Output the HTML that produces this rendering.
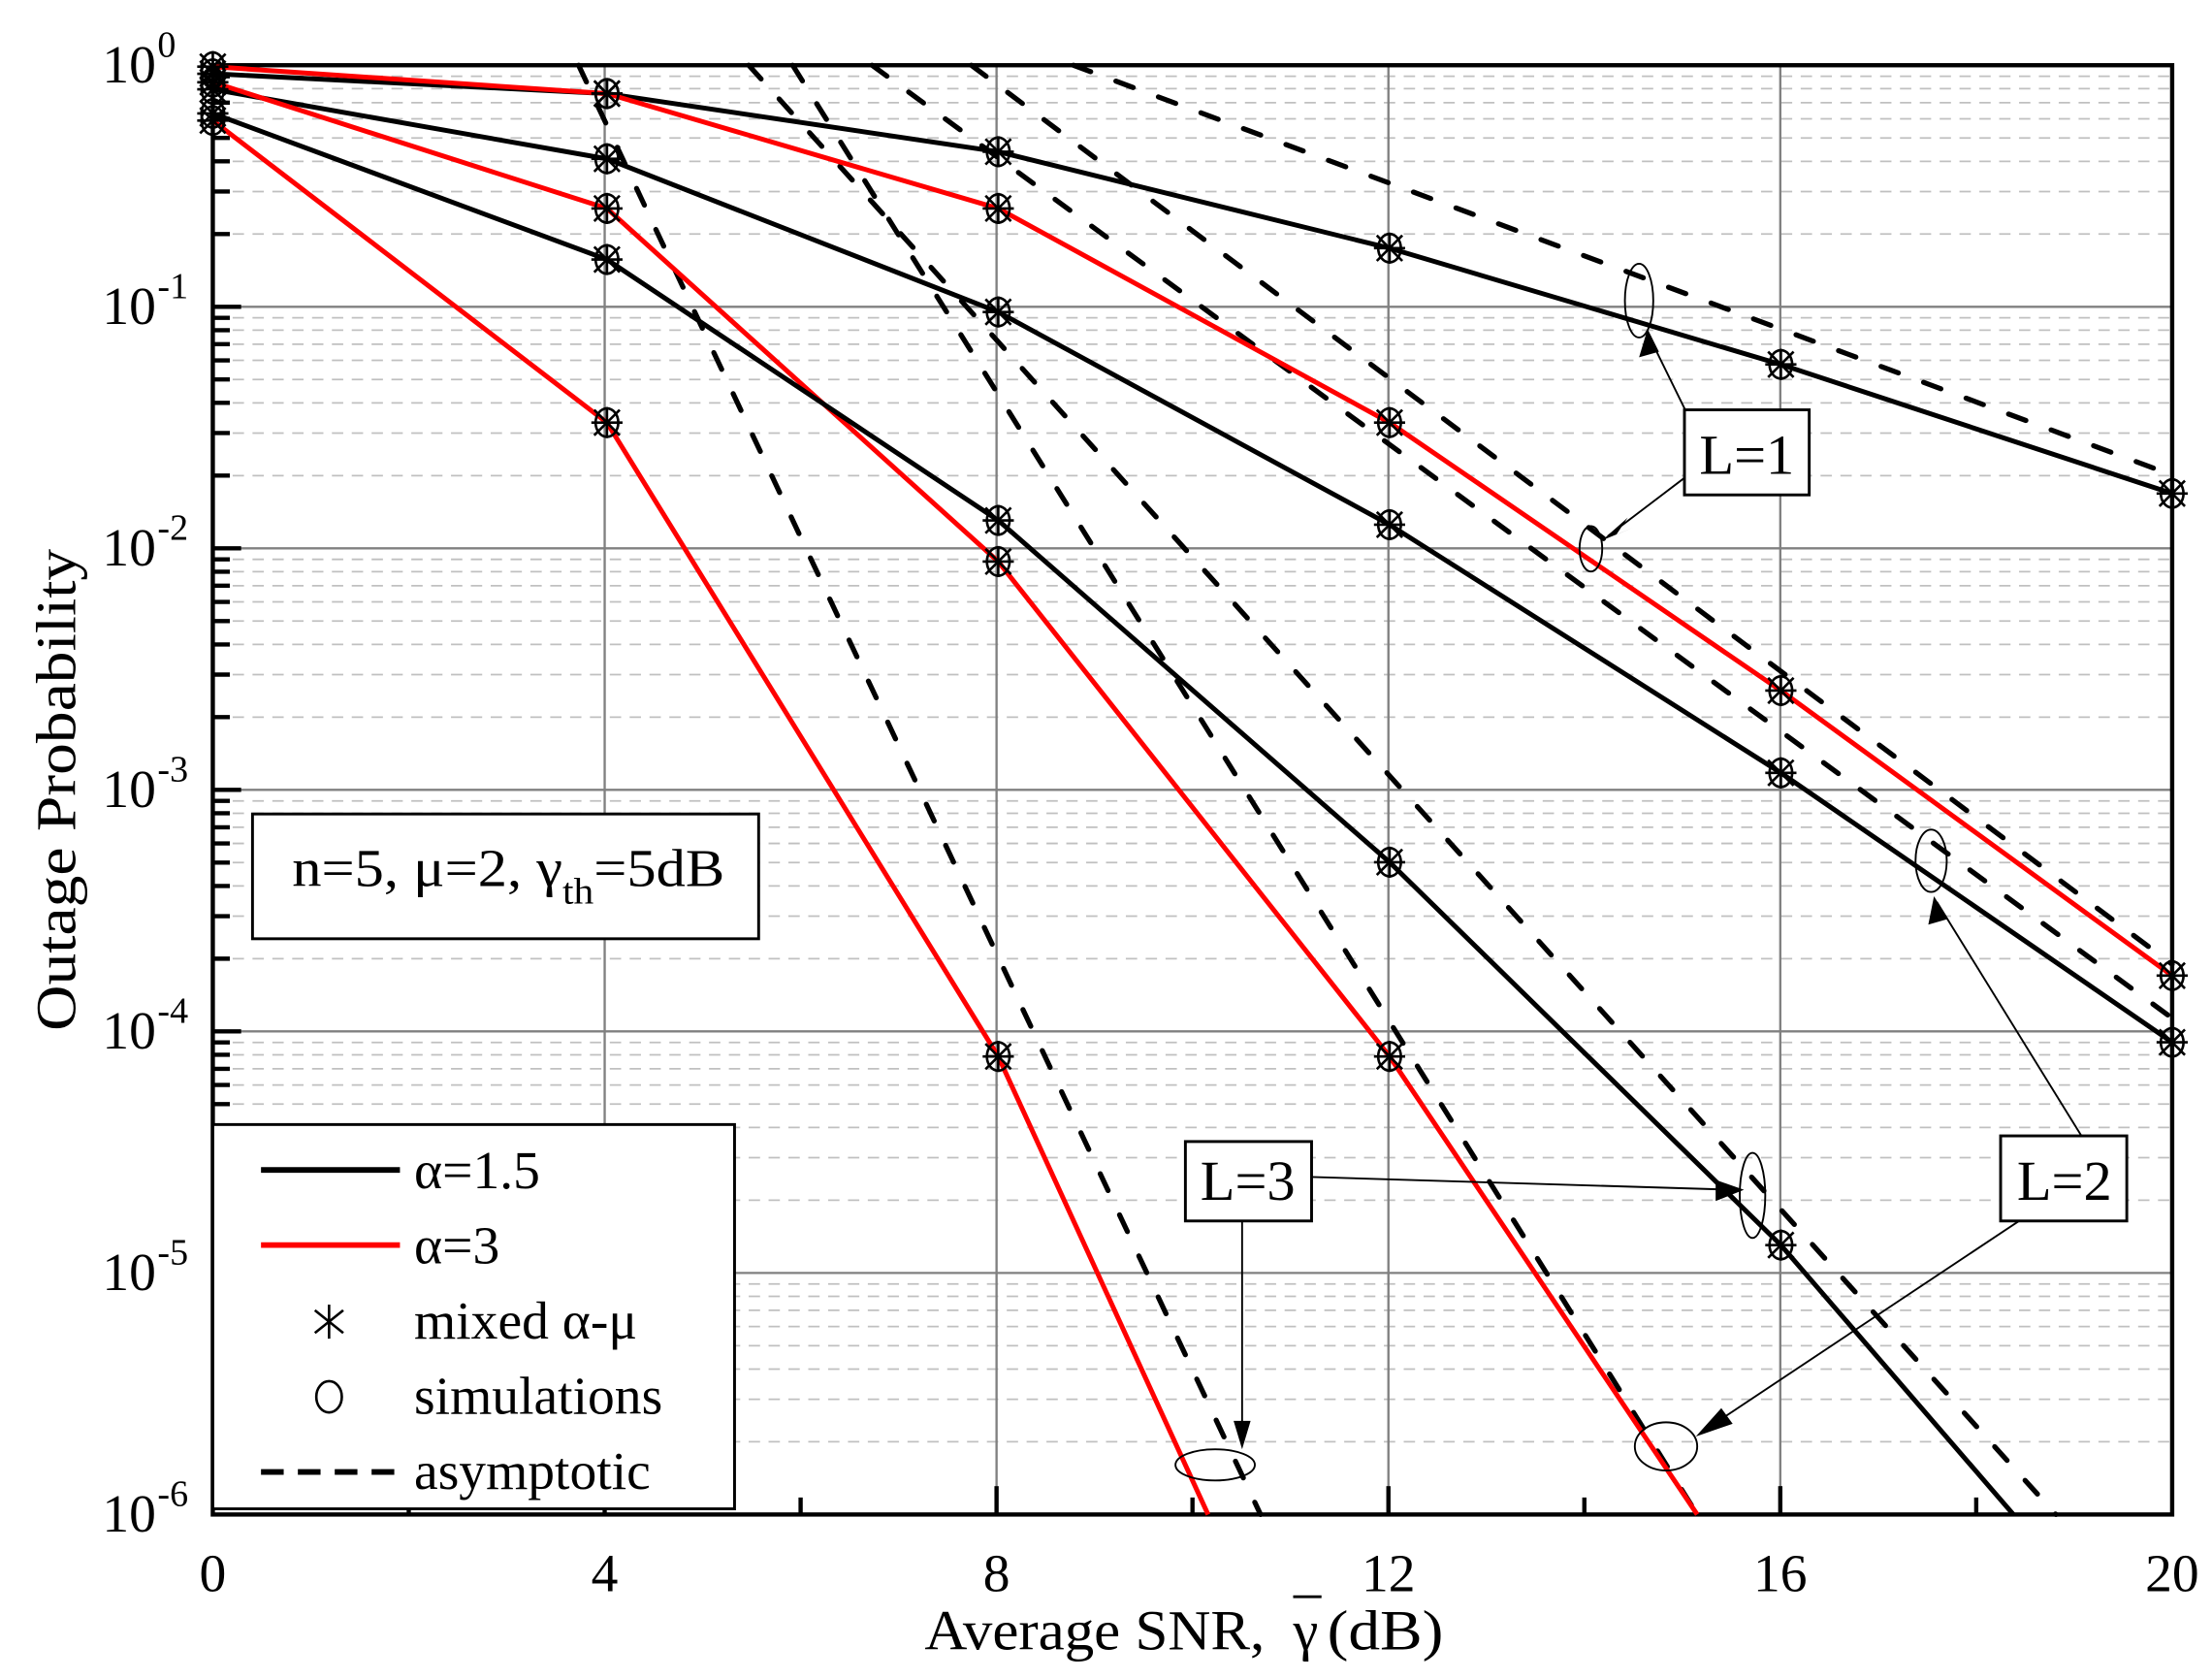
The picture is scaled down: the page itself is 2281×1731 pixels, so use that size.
<!DOCTYPE html>
<html><head><meta charset="utf-8"><style>html,body{margin:0;padding:0;background:#fff}svg{display:block}text{font-family:"Liberation Serif",serif;fill:#000}</style></head>
<body>
<svg id="s" xmlns="http://www.w3.org/2000/svg" width="2281" height="1731" viewBox="0 0 1560 1184">
<rect x="0" y="0" width="1560" height="1184" fill="#fff"/>
<g id="grid"></g>
<g id="curves" fill="none" stroke-linejoin="round"></g>
<g id="marks" fill="none" stroke="#000" stroke-width="1.8"></g>
<g id="ann" fill="none" stroke="#000" stroke-width="1.3">
  <ellipse cx="1156" cy="212" rx="10" ry="26"/>
  <ellipse cx="1122" cy="387" rx="8" ry="16"/>
  <ellipse cx="1362" cy="607" rx="11" ry="22"/>
  <ellipse cx="1175" cy="1020" rx="22" ry="17"/>
  <ellipse cx="1236" cy="843" rx="9" ry="30"/>
  <ellipse cx="857" cy="1033" rx="28" ry="11"/>
  <line x1="1190" y1="292" x2="1162" y2="235"/>
  <line x1="1188" y1="337" x2="1134" y2="378"/>
  <line x1="1468" y1="801" x2="1366" y2="636"/>
  <line x1="1424" y1="861" x2="1200" y2="1010"/>
  <line x1="925" y1="830" x2="1222" y2="839"/>
  <line x1="876" y1="861" x2="876" y2="1018"/>
  <g fill="#000" stroke="none">
    <polygon points="1162,232 1156,252 1170,248"/>
    <polygon points="1130,381 1148,365 1140,377 1152,372"/>
    <polygon points="1364,632 1360,652 1374,648"/>
    <polygon points="1196,1013 1214,993 1222,1004"/>
    <polygon points="1230,839 1210,832 1210,847"/>
    <polygon points="876,1022 870,1002 882,1002"/>
  </g>
  <rect x="1188" y="289" width="88" height="60" fill="#fff" stroke-width="2"/>
  <rect x="1411" y="801" width="89" height="60" fill="#fff" stroke-width="2"/>
  <rect x="836" y="805" width="89" height="56" fill="#fff" stroke-width="2"/>
</g>
<text x="1232" y="334" font-size="40" text-anchor="middle">L=1</text>
<text x="1456" y="846" font-size="40" text-anchor="middle">L=2</text>
<text x="880" y="846" font-size="40" text-anchor="middle">L=3</text>
<rect x="178" y="574" width="357" height="88" fill="#fff" stroke="#000" stroke-width="2"/>
<text x="206" y="625" font-size="38" textLength="305" lengthAdjust="spacingAndGlyphs">n=5, μ=2, γ<tspan font-size="26" dy="12">th</tspan><tspan dy="-12">=5dB</tspan></text>
<rect x="150" y="793" width="368" height="271" fill="#fff" stroke="#000" stroke-width="2"/>
<line x1="184" y1="825" x2="282" y2="825" stroke="#000" stroke-width="4"/>
<line x1="184" y1="878" x2="282" y2="878" stroke="#f00" stroke-width="4"/>
<g stroke="#000" stroke-width="1.8"><line x1="232" y1="920" x2="232" y2="944"/><line x1="222" y1="924" x2="242" y2="940"/><line x1="222" y1="940" x2="242" y2="924"/></g>
<ellipse cx="232" cy="985" rx="9" ry="11" fill="none" stroke="#000" stroke-width="1.8"/>
<line x1="184" y1="1038" x2="282" y2="1038" stroke="#000" stroke-width="4" stroke-dasharray="16,10"/>
<text x="292" y="838" font-size="38">α=1.5</text>
<text x="292" y="891" font-size="38">α=3</text>
<text x="292" y="944" font-size="38">mixed α-μ</text>
<text x="292" y="997" font-size="38">simulations</text>
<text x="292" y="1050" font-size="38">asymptotic</text>
<g id="labels"></g>
<text x="652" y="1163" font-size="40" textLength="240" lengthAdjust="spacingAndGlyphs">Average SNR,</text>
<text x="912" y="1163" font-size="40">γ</text>
<text x="936" y="1163" font-size="40" textLength="82" lengthAdjust="spacingAndGlyphs">(dB)</text>
<line x1="912" y1="1126" x2="932" y2="1126" stroke="#000" stroke-width="2"/>
<text transform="translate(53,557) rotate(-90)" font-size="40" text-anchor="middle" textLength="340" lengthAdjust="spacingAndGlyphs">Outage Probability</text>
</svg>
<script>
const NS="http://www.w3.org/2000/svg";
function el(p,t,a){const e=document.createElementNS(NS,t);for(const k in a)e.setAttribute(k,a[k]);p.appendChild(e);return e;}
const g=document.getElementById('grid'),L=150,R=1532,T=46,B=1068,D=170.33;
for(let d=0;d<6;d++)for(let k=2;k<=9;k++){const y=T+D*(d+1-Math.log10(k));
 el(g,'line',{x1:L,x2:R,y1:y,y2:y,stroke:'#c0c0c0','stroke-width':1.2,'stroke-dasharray':'8,6'});
 el(g,'line',{x1:L,x2:L+12,y1:y,y2:y,stroke:'#000','stroke-width':3});}
for(let d=1;d<6;d++){const y=T+D*d;el(g,'line',{x1:L,x2:R,y1:y,y2:y,stroke:'#808080','stroke-width':1.6});
 el(g,'line',{x1:L,x2:L+20,y1:y,y2:y,stroke:'#000','stroke-width':3});}
for(let i=1;i<5;i++){const x=L+(R-L)*i/5;el(g,'line',{x1:x,x2:x,y1:T,y2:B,stroke:'#808080','stroke-width':1.6});
 el(g,'line',{x1:x,x2:x,y1:B,y2:B-20,stroke:'#000','stroke-width':3});}
for(let i=1;i<10;i+=2){const x=L+(R-L)*i/10;el(g,'line',{x1:x,x2:x,y1:B,y2:B-12,stroke:'#000','stroke-width':3});}
el(g,'rect',{x:L,y:T,width:R-L,height:B-T,fill:'none',stroke:'#000','stroke-width':3});
const c=document.getElementById('curves');
const asym=[[757,46,1532,335],[685,46,1532,680],[615,46,1532,718],[559,46,1197,1068],[528,46,1450,1068],[408,46,889,1068]];
asym.forEach(a=>el(c,'line',{x1:a[0],y1:a[1],x2:a[2],y2:a[3],stroke:'#000','stroke-width':3.6,'stroke-dasharray':'13,19','stroke-linecap':'round'}));
const S={b1:[[150,52],[428,66],[704,107],[980,175],[1256,257],[1532,348]],
r1:[[150,47],[428,66],[704,147],[980,298],[1256,487],[1532,688]],
b2:[[150,63],[428,112],[704,220],[980,370],[1256,545],[1532,735]],
r2:[[150,58],[428,147],[704,396],[980,745],[1197,1068]],
b3:[[150,80],[428,183],[704,367],[980,608],[1256,878],[1420,1068]],
r3:[[150,85],[428,298],[704,745],[852,1068]]};
const m=document.getElementById('marks');
for(const k in S){el(c,'polyline',{points:S[k].map(p=>p.join(',')).join(' '),stroke:k[0]=='r'?'#f00':'#000','stroke-width':3.4});
 S[k].forEach(p=>{if(p[1]>=1060)return;const[x,y]=p;
  el(m,'ellipse',{cx:x,cy:y,rx:8,ry:10});
  el(m,'line',{x1:x,x2:x,y1:y-11,y2:y+11});el(m,'line',{x1:x-11,x2:x+11,y1:y,y2:y});
  el(m,'line',{x1:x-9,x2:x+9,y1:y-9,y2:y+9});el(m,'line',{x1:x-9,x2:x+9,y1:y+9,y2:y-9});});}
const lb=document.getElementById('labels');
for(let d=0;d<=6;d++){const y=T+D*d;const t=el(lb,'text',{x:110,y:y+12,'font-size':38,'text-anchor':'end'});t.textContent='10';
 const s=el(lb,'text',{x:111,y:y-6,'font-size':26});s.textContent=d?'-'+d:'0';}
[0,4,8,12,16,20].forEach((v,i)=>{const t=el(lb,'text',{x:L+(R-L)*i/5,y:1122,'font-size':38,'text-anchor':'middle'});t.textContent=v;});
</script>
</body></html>
